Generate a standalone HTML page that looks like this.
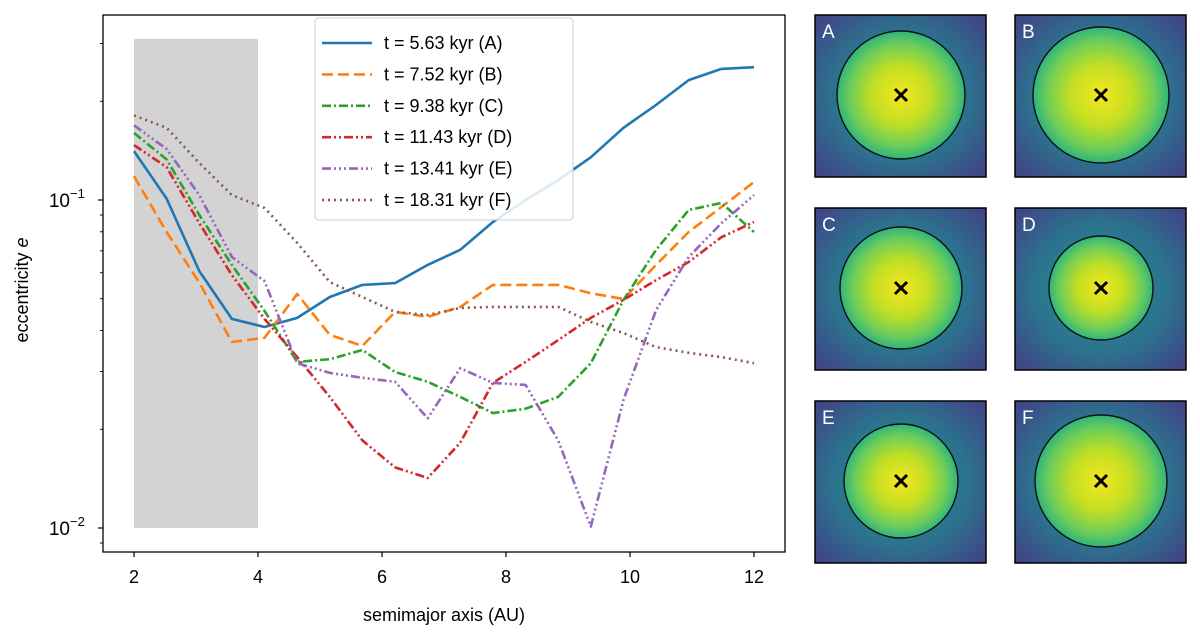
<!DOCTYPE html>
<html><head><meta charset="utf-8">
<style>
html,body{margin:0;padding:0;background:#fff;}
svg{display:block;font-family:"Liberation Sans","DejaVu Sans",sans-serif;}
</style></head>
<body>
<svg id="chart" width="1200" height="637" viewBox="0 0 1200 637" xmlns="http://www.w3.org/2000/svg">
<defs>
  <radialGradient id="bg" cx="50%" cy="50%" r="72%">
    <stop offset="0" stop-color="#21918c"/>
    <stop offset="0.55" stop-color="#2c728e"/>
    <stop offset="1" stop-color="#433e85"/>
  </radialGradient>
  <radialGradient id="disk" cx="50%" cy="50%" r="50%">
    <stop offset="0" stop-color="#f6e620"/>
    <stop offset="0.45" stop-color="#c2df23"/>
    <stop offset="0.8" stop-color="#6ccd5a"/>
    <stop offset="1" stop-color="#2fb47c"/>
  </radialGradient>
</defs>
<g id="plot"></g>
<g id="panels"></g>
</svg>
<script>
const NS='http://www.w3.org/2000/svg';
const xs=[2,2.526,3.053,3.579,4.105,4.632,5.158,5.684,6.211,6.737,7.263,7.789,8.316,8.842,9.368,9.895,10.421,10.947,11.474,12];
const eA=[0.141,0.101,0.0607,0.0434,0.041,0.0437,0.0506,0.0551,0.0558,0.0634,0.0705,0.0857,0.1,0.115,0.135,0.166,0.195,0.232,0.251,0.254];
const eB=[0.1183,0.0799,0.056,0.0369,0.038,0.0517,0.0388,0.0359,0.0456,0.044,0.0472,0.0551,0.0551,0.0551,0.052,0.0499,0.0634,0.0799,0.0952,0.1135];
const eC=[0.16,0.133,0.09,0.0634,0.0459,0.0321,0.0327,0.0349,0.0299,0.0279,0.0251,0.0224,0.0231,0.0251,0.0318,0.0496,0.0705,0.0932,0.098,0.0799];
const eD=[0.147,0.126,0.085,0.059,0.0434,0.0332,0.0251,0.0185,0.0153,0.0142,0.0182,0.0277,0.0321,0.0374,0.0437,0.0496,0.057,0.0647,0.077,0.0857];
const eE=[0.169,0.143,0.1035,0.067,0.0566,0.0318,0.0297,0.0287,0.0279,0.0216,0.0307,0.0277,0.0273,0.0185,0.0101,0.0246,0.0462,0.067,0.085,0.1035];
const eF=[0.181,0.166,0.1297,0.1035,0.0946,0.074,0.0562,0.0506,0.0456,0.0446,0.0469,0.0472,0.0472,0.0472,0.0425,0.0393,0.0356,0.0342,0.0332,0.0318];
const labels=['t = 5.63 kyr (A)','t = 7.52 kyr (B)','t = 9.38 kyr (C)','t = 11.43 kyr (D)','t = 13.41 kyr (E)','t = 18.31 kyr (F)'];
const xTicks=[2,4,6,8,10,12];
const yMajor=[0.1,0.01];
const yMajorLbl=['10','10'];
const yMajorExp=['\u22121','\u22122'];
const yMinor=[0.009,0.02,0.03,0.04,0.05,0.06,0.07,0.08,0.09,0.2,0.3];
const shade=[2,4,0.01,0.31];

const L=103,R=785,T=15,B=552;
function X(v){return 134+(v-2)*62;}
function Y(v){return 200-(Math.log10(v)+1)*328;}
const g=document.getElementById('plot');
function el(tag,attrs,parent){const e=document.createElementNS(NS,tag);for(const k in attrs)e.setAttribute(k,attrs[k]);(parent||g).appendChild(e);return e;}

let r=el('rect',{x:X(shade[0]),y:Y(shade[3]),width:X(shade[1])-X(shade[0]),height:Y(shade[2])-Y(shade[3]),fill:'#d3d3d3'});



const series=[eA,eB,eC,eD,eE,eF];
const colors=['#1f77b4','#ff7f0e','#2ca02c','#d62728','#9467bd','#8c564b'];
const dashes=['','11,5','9,3,2,3','9,3,2,3,2,3','9,3,2,3,2,3,2,3','2,4'];
const names=['series-a','series-b','series-c','series-d','series-e','series-f'];
series.forEach((s,i)=>{
  const d=s.map((v,j)=>(j?'L':'M')+X(xs[j]).toFixed(1)+','+Y(v).toFixed(1)).join(' ');
  const p=el('path',{d:d,fill:'none',stroke:colors[i],'stroke-width':2.6,'stroke-dasharray':dashes[i],'stroke-linejoin':'round'});
  
  
});

const fr=el('rect',{x:L,y:T,width:R-L,height:B-T,fill:'none',stroke:'#000','stroke-width':1.3});



xTicks.forEach(t=>{
  el('line',{x1:X(t),x2:X(t),y1:B,y2:B+5,stroke:'#000','stroke-width':1.2});
  const tx=el('text',{x:X(t),y:B+31,'text-anchor':'middle','font-size':18,fill:'#000'});
  tx.textContent=t;
  
  
});
yMajor.forEach((t,i)=>{
  el('line',{x1:L-5,x2:L,y1:Y(t),y2:Y(t),stroke:'#000','stroke-width':1.2});
  const tx=el('text',{x:L-33,y:Y(t)+7,'text-anchor':'end','font-size':19,fill:'#000'});
  tx.textContent=yMajorLbl[i];
  
  
  const ex=el('text',{x:L-33,y:Y(t)-2,'text-anchor':'start','font-size':13,fill:'#000'});
  ex.textContent=yMajorExp[i];
  
  
});
yMinor.forEach(t=>{el('line',{x1:L-3,x2:L,y1:Y(t),y2:Y(t),stroke:'#000','stroke-width':0.9});});

let xt=el('text',{x:(L+R)/2,y:621,'text-anchor':'middle','font-size':18,fill:'#000'});
xt.textContent='semimajor axis (AU)';


let yt=el('text',{x:0,y:0,'text-anchor':'middle','font-size':18,fill:'#000',transform:'translate(28,290) rotate(-90)'});
yt.innerHTML='eccentricity <tspan font-style="italic">e</tspan>';



const lg=el('g',{});


el('rect',{x:315,y:18,width:258,height:202,rx:4,fill:'#fff','fill-opacity':0.85,stroke:'#ccc','stroke-width':1},lg);
labels.forEach((lb,i)=>{
  const yy=43+i*31.4;
  const e=el('g',{},lg);
  
  
  el('line',{x1:322,x2:372,y1:yy,y2:yy,stroke:colors[i],'stroke-width':2.6,'stroke-dasharray':dashes[i]},e);
  const t=el('text',{x:384,y:yy+6,'font-size':18,fill:'#000'},e);
  t.textContent=lb;
});

const pg=document.getElementById('panels');
const pLetters=['A','B','C','D','E','F'];
const pX=[815,1015,815,1015,815,1015];
const pY=[15,15,208,208,401,401];
const pR=[64,68,61,52,57,66];
pLetters.forEach((lt,i)=>{
  const w=171,h=162;
  const grp=el('g',{},pg);
  
  
  el('rect',{x:pX[i],y:pY[i],width:w,height:h,fill:'url(#bg)'},grp);
  const cx=pX[i]+86,cy=pY[i]+80;
  el('circle',{cx:cx,cy:cy,r:pR[i],fill:'url(#disk)',stroke:'#111','stroke-width':1.4},grp);
  el('path',{d:`M${cx-6},${cy-6}L${cx+6},${cy+6}M${cx+6},${cy-6}L${cx-6},${cy+6}`,stroke:'#000','stroke-width':3},grp);
  el('rect',{x:pX[i],y:pY[i],width:w,height:h,fill:'none',stroke:'#000','stroke-width':1.5},grp);
  const t=el('text',{x:pX[i]+7,y:pY[i]+23,'font-size':19,fill:'#fff'},grp);
  t.textContent=lt;
});
</script>
</body></html>
